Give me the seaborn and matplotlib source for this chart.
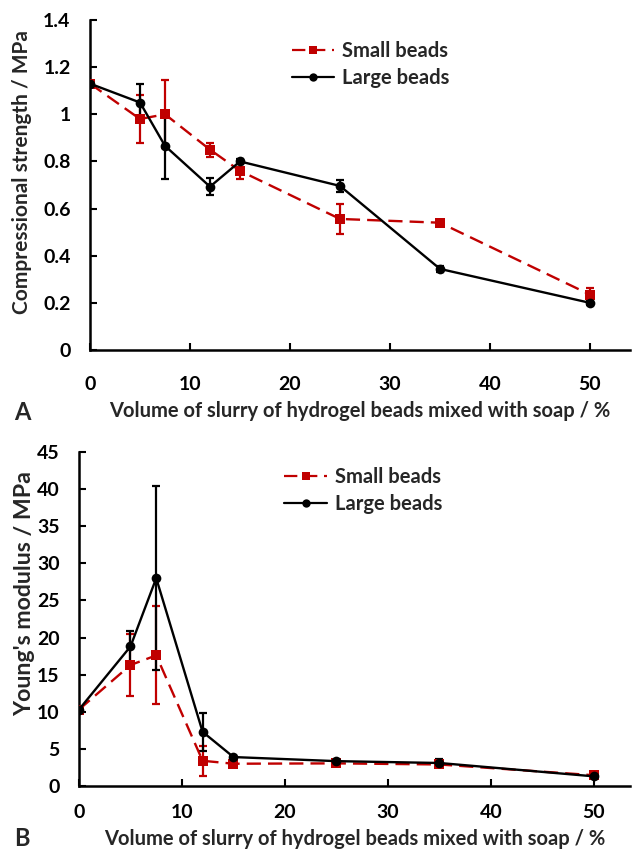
import matplotlib
matplotlib.use("Agg")
import matplotlib.pyplot as plt
import seaborn as sns
import pandas as pd
from matplotlib.ticker import FuncFormatter, MultipleLocator

sns.set_theme(style="white")
plt.rcParams["font.family"] = ["Lato", "DejaVu Sans"]
plt.rcParams["font.weight"] = "bold"

volume = [0, 5, 7.5, 12, 15, 25, 35, 50]

# Compressional strength (MPa)
strength_small = [1.13, 0.98, 1.00, 0.85, 0.76, 0.556, 0.54, 0.235]
strength_small_err = [0.01, 0.10, 0.145, 0.03, 0.035, 0.065, 0.01, 0.03]
strength_large = [1.13, 1.05, 0.866, 0.693, 0.80, 0.696, 0.344, 0.20]
strength_large_err = [0.01, 0.08, 0.14, 0.035, 0.01, 0.025, 0.012, 0.01]

# Young's modulus (MPa)
modulus_small = [10.3, 16.3, 17.6, 3.4, 3.0, 3.05, 2.9, 1.45]
modulus_small_err = [0.3, 4.2, 6.6, 2.0, 0.2, 0.2, 0.3, 0.3]
modulus_large = [10.3, 18.8, 28.0, 7.3, 3.9, 3.35, 3.1, 1.3]
modulus_large_err = [0.3, 2.1, 12.4, 2.6, 0.2, 0.2, 0.5, 0.2]

series_names = ["Small beads", "Large beads"]
red = "#C00000"
black = "#000000"

xlabel = "Volume of slurry of hydrogel beads mixed with soap / %"
TICK_FS = 14
LABEL_FS = 14.5

fig = plt.figure(figsize=(6.33, 8.52), dpi=100)
ax_a = fig.add_axes([90 / 633, 1 - 350 / 852, 540 / 633, 330 / 852])
ax_b = fig.add_axes([79 / 633, 1 - 786 / 852, 551 / 633, 334 / 852])


def draw_panel(ax, small, small_err, large, large_err, legend_y, xpad, xlabelpad):
    df = pd.DataFrame({
        "x": volume * 2,
        "y": small + large,
        "series": [series_names[0]] * len(volume) + [series_names[1]] * len(volume),
    })
    sns.lineplot(data=df, x="x", y="y", hue="series", style="series",
                 palette={series_names[0]: red, series_names[1]: black},
                 dashes={series_names[0]: (6, 3), series_names[1]: ""},
                 markers={series_names[0]: "s", series_names[1]: "o"},
                 markersize=7, markeredgewidth=0, linewidth=1.7, ax=ax,
                 legend=True, zorder=3)
    ax.errorbar(volume, small, yerr=small_err, fmt="none", ecolor=red,
                elinewidth=1.6, capsize=2.8, capthick=1.6, zorder=2)
    ax.errorbar(volume, large, yerr=large_err, fmt="none", ecolor=black,
                elinewidth=1.6, capsize=2.8, capthick=1.6, zorder=2)
    for s in ["top", "right"]:
        ax.spines[s].set_visible(False)
    for s in ["left", "bottom"]:
        ax.spines[s].set_color("black")
        ax.spines[s].set_linewidth(1.8)
    ax.tick_params(direction="in", length=5, width=1.5, colors="black",
                   labelsize=TICK_FS, left=True, bottom=True)
    ax.tick_params(axis="x", pad=xpad)
    ax.tick_params(axis="y", pad=14)
    ax.xaxis.set_major_locator(MultipleLocator(10))
    ax.set_xlabel(xlabel, fontsize=LABEL_FS, fontweight="bold", labelpad=xlabelpad)
    ax.grid(False)
    leg = ax.legend(loc="upper left", bbox_to_anchor=(0.34, legend_y), frameon=False,
                    prop={"weight": "bold", "size": LABEL_FS}, handlelength=2.1,
                    handletextpad=0.4, labelspacing=0.35)
    for h in leg.legend_handles:
        h.set_linewidth(1.6)
        h.set_markersize(6)


draw_panel(ax_a, strength_small, strength_small_err, strength_large, strength_large_err,
           0.99, 18.5, 6)
ax_a.set_xlim(0, 54)
ax_a.set_ylim(0, 1.4)
ax_a.yaxis.set_major_locator(MultipleLocator(0.2))
ax_a.yaxis.set_major_formatter(FuncFormatter(lambda v, p: f"{v:g}"))
ax_a.set_ylabel("Compressional strength / MPa", fontsize=15, fontweight="bold")
ax_a.yaxis.set_label_coords(-0.108, 0.54)

draw_panel(ax_b, modulus_small, modulus_small_err, modulus_large, modulus_large_err,
           1.01, 13, 5.5)
ax_b.set_xlim(0, 53.5)
ax_b.set_ylim(0, 45)
ax_b.yaxis.set_major_locator(MultipleLocator(5))
ax_b.set_ylabel("Young's modulus / MPa", fontsize=16.7, fontweight="bold")
ax_b.yaxis.set_label_coords(-0.08, 0.575)

for ax in (ax_a, ax_b):
    for lbl in ax.get_xticklabels() + ax.get_yticklabels():
        lbl.set_fontweight("bold")

fig.text(14 / 633, 1 - 412 / 852, "A", fontsize=17, fontweight="bold", va="center")
fig.text(14 / 633, 1 - 838 / 852, "B", fontsize=17, fontweight="bold", va="center")

fig.savefig("out.png", dpi=100)
